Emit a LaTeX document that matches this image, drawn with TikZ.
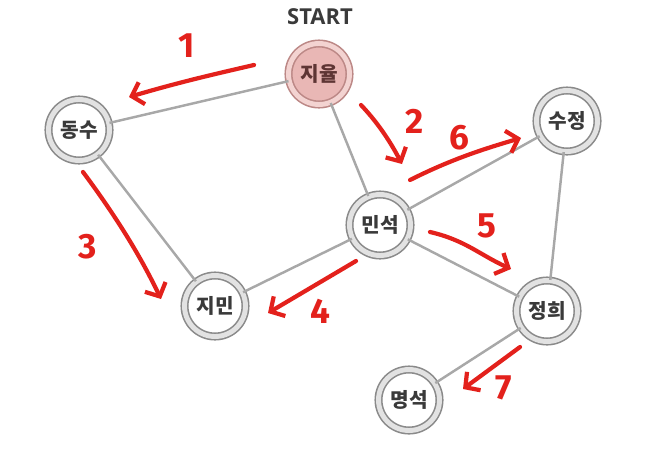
\documentclass[tikz,border=0pt]{standalone}
\usepackage{fontspec}
\setmainfont{Noto Sans CJK KR}
\newfontfamily\startfont{Open Sans}
\newfontfamily\handfont{Fira Sans}
\usetikzlibrary{arrows.meta}

\definecolor{ringgray}{HTML}{8A8A8A}
\definecolor{ringlight}{HTML}{E2E2E2}
\definecolor{linkgray}{HTML}{A8A8A8}
\definecolor{nodetext}{HTML}{3A3A3A}
\definecolor{startfill}{HTML}{E9B7B5}
\definecolor{startring}{HTML}{BC8886}
\definecolor{startlight}{HTML}{F3D3D1}
\definecolor{starttext}{HTML}{5E3534}
\definecolor{handred}{HTML}{E3211C}

\tikzset{
  person/.style={circle, draw=ringgray, line width=0.9pt, double=ringlight,
    double distance=2.8pt, fill=white, minimum size=1.22cm, inner sep=0pt,
    text=nodetext, font=\bfseries\fontsize{11.5}{12}\selectfont},
  startperson/.style={person, draw=startring, double=startlight, fill=startfill, text=starttext},
  link/.style={draw=linkgray, line width=1.4pt},
  trace/.style={draw=handred, line width=2.4pt, line cap=round, line join=round,
    -{Straight Barb[length=6pt,width=13pt]}},
  stepno/.style={text=handred, font=\handfont\bfseries\fontsize{20}{20}\selectfont}
}

\begin{document}
\begin{tikzpicture}[x=0.02cm, y=-0.02cm]
    \useasboundingbox (0,0) rectangle (651,460);

    % people
    \node[startperson] (jiyul) at (319,74) {지율};
    \node[font=\startfont\bfseries\fontsize{12.5}{13}\selectfont, text=nodetext] (start) at (320,17) {START};
    \node[person] (dongsu) at (79,130) {동수};
    \node[person] (minseok) at (380,225) {민석};
    \node[person] (jimin) at (215,306) {지민};
    \node[person] (sujeong) at (567,121) {수정};
    \node[person] (jeonghui) at (547,311) {정희};
    \node[person] (myeongseok) at (409,400) {명석};

    % friendships
    \draw[link] (jiyul) -- (dongsu);
    \draw[link] (jiyul) -- (minseok);
    \draw[link] (dongsu) -- (jimin);
    \draw[link] (jimin) -- (minseok);
    \draw[link] (minseok) -- (sujeong);
    \draw[link] (minseok) -- (jeonghui);
    \draw[link] (sujeong) -- (jeonghui);
    \draw[link] (jeonghui) -- (myeongseok);

    % visiting order (hand drawn)
    \coordinate (s1) at (254,65);  \coordinate (e1) at (129,97);
    \coordinate (s2) at (361,105); \coordinate (e2) at (402,164);
    \coordinate (s3) at (83,172);  \coordinate (e3) at (161,299);
    \coordinate (s4) at (356,261); \coordinate (e4) at (268,313);
    \coordinate (s5) at (430,232); \coordinate (e5) at (511,269);
    \coordinate (s6) at (410,180); \coordinate (e6) at (521,138);
    \coordinate (s7) at (520,347); \coordinate (e7) at (463,389);

    \draw[trace] (s1) .. controls (215,74) and (180,82) .. (e1);
    \draw[trace] (s2) .. controls (380,125) and (392,145) .. (e2);
    \draw[trace] (s3) .. controls (115,215) and (140,255) .. (e3);
    \draw[trace] (s4) -- (e4);
    \draw[trace] (s5) .. controls (465,240) and (480,255) .. (e5);
    \draw[trace] (s6) .. controls (450,160) and (480,150) .. (e6);
    \draw[trace] (s7) -- (e7);

    \node[stepno] (n1) at (187,46) {1};
    \node[stepno] (n2) at (415,121) {2};
    \node[stepno] (n3) at (88,247) {3};
    \node[stepno] (n4) at (320,311) {4};
    \node[stepno] (n5) at (487,226) {5};
    \node[stepno] (n6) at (459,138) {6};
    \node[stepno] (n7) at (504,388) {7};
\end{tikzpicture}
\end{document}
